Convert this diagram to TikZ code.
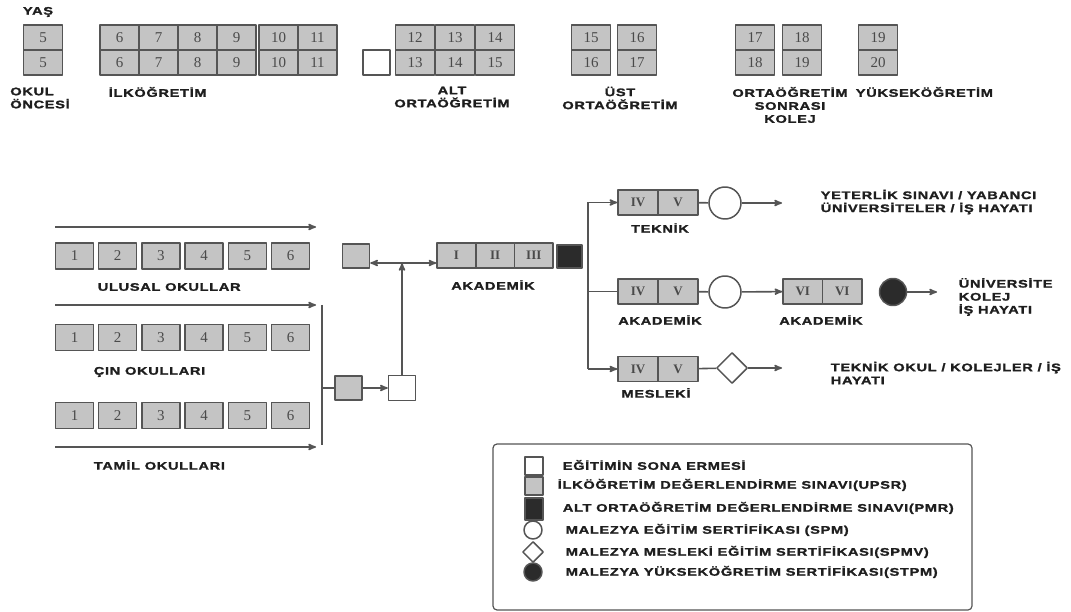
\documentclass[tikz,border=0pt]{standalone}
\usepackage{fontspec}
\usepackage{tikz}
\usetikzlibrary{arrows,positioning,shapes}
\newfontfamily\lblfont{Liberation Sans}[UprightFont={* Bold},BoldFont={* Bold},FakeStretch=1.33,FakeBold=1.6,LetterSpace=6]
\newfontfamily\numfont{Liberation Serif}
\definecolor{cellgray}{HTML}{C4C4C4}
\definecolor{edgegray}{HTML}{555555}
\definecolor{inkgray}{HTML}{4A4A4A}
\definecolor{labelink}{HTML}{1E1E1E}
\definecolor{examblack}{HTML}{2B2B2B}

\begin{document}
\begin{tikzpicture}[>=stealth',x=1pt,y=-1pt,line width=1.6pt,draw=edgegray,line join=round]
\tikzstyle{cell}=[draw=edgegray,fill=cellgray,line width=1.5pt,minimum width=39pt,minimum height=25pt,inner sep=0pt,text=inkgray,font=\numfont\fontsize{15}{15}\selectfont]
\tikzstyle{rowcell}=[cell,minimum width=38pt,minimum height=26pt]
\tikzstyle{romcell}=[cell,minimum width=40pt,font=\numfont\bfseries\fontsize{13}{13}\selectfont]
\tikzstyle{lbl}=[font=\lblfont\fontsize{11}{13}\selectfont,text=labelink,inner sep=0pt,align=left]
\tikzstyle{clbl}=[lbl,align=center]
\tikzstyle{endbox}=[draw=edgegray,fill=white,line width=1.5pt,minimum width=27pt,minimum height=25pt,inner sep=0pt]
\tikzstyle{upsrbox}=[endbox,fill=cellgray,minimum height=24pt]
\tikzstyle{pmrbox}=[endbox,fill=examblack,minimum width=25pt,minimum height=23pt]
\tikzstyle{spm}=[draw=edgegray,fill=white,line width=1.5pt,shape=circle,minimum size=32pt,inner sep=0pt]
\tikzstyle{spmv}=[spm,shape=diamond,minimum size=31pt]
\tikzstyle{stpm}=[spm,fill=examblack,minimum size=27pt]

\useasboundingbox (0,0) rectangle (1071,612);

% ages
\node[lbl]          (YAS) at (38,12)  {YAŞ};
\node[cell]         (P1) at (43,37.5) {5};
\node[cell]         (P2) [below of=P1,node distance=25pt] {5};
\node[lbl]          (LP) at (40,98) {OKUL\\ÖNCESİ};

\node[cell]         (I1) at (119.5,37.5) {6};
\node[cell]         (I2) [right of=I1,node distance=39pt] {7};
\node[cell]         (I3) [right of=I2,node distance=39pt] {8};
\node[cell]         (I4) [right of=I3,node distance=39pt] {9};
\node[cell]         (I5) [right of=I4,node distance=42pt] {10};
\node[cell]         (I6) [right of=I5,node distance=39pt] {11};
\node[cell]         (I7) [below of=I1,node distance=25pt] {6};
\node[cell]         (I8) [below of=I2,node distance=25pt] {7};
\node[cell]         (I9) [below of=I3,node distance=25pt] {8};
\node[cell]         (I10) [below of=I4,node distance=25pt] {9};
\node[cell]         (I11) [below of=I5,node distance=25pt] {10};
\node[cell]         (I12) [below of=I6,node distance=25pt] {11};
\node[lbl,anchor=west] (LI) at (108,92) {İLKÖĞRETİM};

\node[endbox]       (W0) at (376.5,62.5) {};
\node[cell]         (A1) at (415,37.5) {12};
\node[cell]         (A2) [right of=A1,node distance=40pt] {13};
\node[cell]         (A3) [right of=A2,node distance=40pt] {14};
\node[cell]         (A4) [below of=A1,node distance=25pt] {13};
\node[cell]         (A5) [below of=A2,node distance=25pt] {14};
\node[cell]         (A6) [below of=A3,node distance=25pt] {15};
\node[clbl]         (LA) at (452,97) {ALT\\ORTAÖĞRETİM};

\node[cell]         (U1) at (591,37.5) {15};
\node[cell]         (U2) [right of=U1,node distance=46pt] {16};
\node[cell]         (U3) [below of=U1,node distance=25pt] {16};
\node[cell]         (U4) [below of=U2,node distance=25pt] {17};
\node[clbl]         (LU) at (620,98) {ÜST\\ORTAÖĞRETİM};

\node[cell]         (S1) at (755,37.5) {17};
\node[cell]         (S2) [right of=S1,node distance=47pt] {18};
\node[cell]         (S3) [below of=S1,node distance=25pt] {18};
\node[cell]         (S4) [below of=S2,node distance=25pt] {19};
\node[clbl]         (LS) at (790,105) {ORTAÖĞRETİM\\SONRASI\\KOLEJ};

\node[cell]         (Y1) at (878,37.5) {19};
\node[cell]         (Y2) [below of=Y1,node distance=25pt] {20};
\node[lbl,anchor=west] (LY) at (855,92) {YÜKSEKÖĞRETİM};

% primary schools
\coordinate (L1a) at (55,227);  \coordinate (L1b) at (316,227);
\coordinate (L2a) at (55,305);  \coordinate (L2b) at (316,305);
\coordinate (L3a) at (55,447);  \coordinate (L3b) at (316,447);

\node[rowcell]      (N1) at (74.5,256) {1};
\node[rowcell]      (N2) [right of=N1,node distance=43.2pt] {2};
\node[rowcell]      (N3) [right of=N2,node distance=43.2pt] {3};
\node[rowcell]      (N4) [right of=N3,node distance=43.2pt] {4};
\node[rowcell]      (N5) [right of=N4,node distance=43.2pt] {5};
\node[rowcell]      (N6) [right of=N5,node distance=43.2pt] {6};
\node[lbl,anchor=west] (LN) at (97,287) {ULUSAL OKULLAR};

\node[rowcell]      (C1) at (74.5,337.5) {1};
\node[rowcell]      (C2) [right of=C1,node distance=43.2pt] {2};
\node[rowcell]      (C3) [right of=C2,node distance=43.2pt] {3};
\node[rowcell]      (C4) [right of=C3,node distance=43.2pt] {4};
\node[rowcell]      (C5) [right of=C4,node distance=43.2pt] {5};
\node[rowcell]      (C6) [right of=C5,node distance=43.2pt] {6};
\node[lbl,anchor=west] (LC) at (93,372) {ÇIN OKULLARI};

\node[rowcell]      (T1) at (74.5,415.5) {1};
\node[rowcell]      (T2) [right of=T1,node distance=43.2pt] {2};
\node[rowcell]      (T3) [right of=T2,node distance=43.2pt] {3};
\node[rowcell]      (T4) [right of=T3,node distance=43.2pt] {4};
\node[rowcell]      (T5) [right of=T4,node distance=43.2pt] {5};
\node[rowcell]      (T6) [right of=T5,node distance=43.2pt] {6};
\node[lbl,anchor=west] (LT) at (93,465) {TAMİL OKULLARI};

\coordinate (V1) at (322,305);
\coordinate (V2) at (322,445);
\coordinate (VM) at (322,388);
\node[upsrbox]      (G1) at (348.5,388) {};
\node[endbox]       (W1) at (402,388) {};
\node[upsrbox]      (G2) at (356,256) {};
\coordinate (J) at (402,263);

% lower secondary
\node[romcell,minimum width=38.7pt] (K1) at (456.4,255.5) {I};
\node[romcell,minimum width=38.7pt] (K2) [right of=K1,node distance=38.7pt] {II};
\node[romcell,minimum width=38.7pt] (K3) [right of=K2,node distance=38.7pt] {III};
\node[pmrbox]       (B1) at (569.5,256.5) {};
\node[clbl]         (LK) at (493,285) {AKADEMİK};

% upper secondary
\coordinate (R1) at (588,202.5);
\coordinate (R2) at (588,369);
\node[romcell]      (E1) at (638,202.5) {IV};
\node[romcell]      (E2) [right of=E1,node distance=40pt] {V};
\node[clbl]         (LE) at (660,228) {TEKNİK};
\node[romcell]      (F1) at (638,291.5) {IV};
\node[romcell]      (F2) [right of=F1,node distance=40pt] {V};
\node[clbl]         (LF) at (660,320) {AKADEMİK};
\node[romcell]      (H1) at (638,369) {IV};
\node[romcell]      (H2) [right of=H1,node distance=40pt] {V};
\node[clbl]         (LH) at (656,393) {MESLEKİ};

\node[spm]          (O1) at (725,203) {};
\coordinate (X1) at (782,203);
\node[lbl,anchor=west] (TX1) at (820,202) {YETERLİK SINAVI / YABANCI\\ÜNİVERSİTELER / İŞ HAYATI};
\node[spm]          (O2) at (725,292) {};
\node[romcell,minimum width=39.5pt] (Q1) at (802.75,291.5) {VI};
\node[romcell,minimum width=39.5pt] (Q2) [right of=Q1,node distance=39.5pt] {VI};
\node[clbl]         (LQ) at (821,320) {AKADEMİK};
\node[stpm]         (O3) at (893,292) {};
\coordinate (X2) at (937,292);
\node[lbl,anchor=west] (TX2) at (958,297) {ÜNİVERSİTE\\KOLEJ\\İŞ HAYATI};
\node[spmv]         (D1) at (732,368) {};
\coordinate (X3) at (782,368);
\node[lbl,anchor=west] (TX3) at (830,373) {TEKNİK OKUL / KOLEJLER / İŞ\\HAYATI};

% legend
\node[draw=edgegray,line width=1.2pt,rounded corners=4pt,minimum width=479pt,minimum height=166pt] (LEG) at (732.5,527) {};
\node[endbox,minimum size=18pt] (M1) at (534,466) {};
\node[upsrbox,minimum size=18pt] (M2) at (534,486) {};
\node[pmrbox,minimum width=18pt,minimum height=22pt] (M3) at (534,509) {};
\node[spm,minimum size=18pt] (M4) at (533,530) {};
\node[spmv,minimum size=21pt] (M5) at (533,552) {};
\node[stpm,minimum size=18pt] (M6) at (533,572) {};
\node[lbl,anchor=west] (TM1) at (562,465) {EĞİTİMİN SONA ERMESİ};
\node[lbl,anchor=west] (TM2) at (557,485) {İLKÖĞRETİM DEĞERLENDİRME SINAVI(UPSR)};
\node[lbl,anchor=west] (TM3) at (562,508) {ALT ORTAÖĞRETİM DEĞERLENDİRME SINAVI(PMR)};
\node[lbl,anchor=west] (TM4) at (565,530) {MALEZYA EĞİTİM SERTİFİKASI (SPM)};
\node[lbl,anchor=west] (TM5) at (565,552) {MALEZYA MESLEKİ EĞİTİM SERTİFİKASI(SPMV)};
\node[lbl,anchor=west] (TM6) at (565,572) {MALEZYA YÜKSEKÖĞRETİM SERTİFİKASI(STPM)};

\draw[->] (L1a) -- (L1b);
\draw[->] (L2a) -- (L2b);
\draw[->] (L3a) -- (L3b);
\draw (V1) -- (V2);
\draw (VM) -- (G1);
\draw[->] (G1) -- (W1);
\draw[->] (W1) -- (J);
\draw[<->] (G2.east |- J) -- (K1.west |- J);
\draw (R1) -- (R2);
\draw[->] (R1) -- (E1);
\draw (R1 |- F1) -- (F1);
\draw[->] (R2) -- (H1);
\draw (E2) -- (O1);
\draw[->] (O1) -- (X1);
\draw (F2) -- (O2);
\draw[->] (O2) -- (Q1);
\draw[->] (O3) -- (X2);
\draw (H2) -- (D1);
\draw[->] (D1) -- (X3);
\end{tikzpicture}
\end{document}
